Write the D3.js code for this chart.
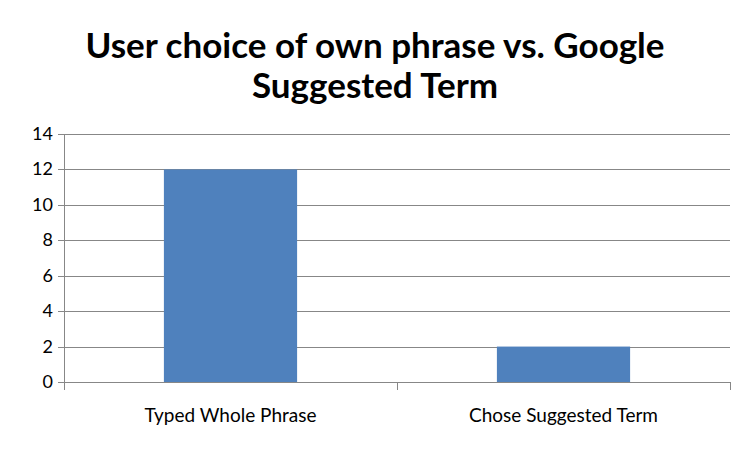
<!DOCTYPE html>
<html><head><meta charset="utf-8">
<script src="https://cdn.jsdelivr.net/npm/d3@7"></script>
<style>body{margin:0;background:#fff}svg{display:block}</style>
</head><body>
<svg id="c" width="752" height="451"></svg>
<script>
const categories = ["Typed Whole Phrase", "Chose Suggested Term"];
const values = [12, 2];
const yTicks = [0, 2, 4, 6, 8, 10, 12, 14];
const titleLines = ["User choice of own phrase vs. Google", "Suggested Term"];

const svg = d3.select("#c");
const W = 752, H = 451;
const m = {left: 64, right: 22, top: 134, bottom: 69};
const font = "Lato, 'Open Sans', sans-serif";

svg.append("rect").attr("width", W).attr("height", H).attr("fill", "#fff");

const x = d3.scaleBand().domain(categories).range([m.left, W - m.right]).paddingInner(0.6).paddingOuter(0.3);
const xb = d3.scaleBand().domain(categories).range([m.left, W - m.right]);
const y = d3.scaleLinear().domain([0, 14]).range([H - m.bottom, m.top]);

// gridlines
svg.append("g").selectAll("line").data(yTicks).join("line")
  .attr("x1", m.left - 6).attr("x2", W - m.right)
  .attr("y1", d => Math.round(y(d)) + 0.5).attr("y2", d => Math.round(y(d)) + 0.5)
  .attr("stroke", "#878787").attr("stroke-width", 1);

// y axis line
svg.append("line").attr("x1", m.left + 0.5).attr("x2", m.left + 0.5)
  .attr("y1", Math.round(y(14))).attr("y2", Math.round(y(0)) + 0.5)
  .attr("stroke", "#878787");

// bars
svg.append("g").selectAll("rect").data(values).join("rect")
  .attr("x", (d, i) => x(categories[i]))
  .attr("width", x.bandwidth())
  .attr("y", d => y(d))
  .attr("height", d => y(0) - y(d))
  .attr("fill", "#4f81bd");

// x axis ticks
const xTickPos = [m.left, ...categories.map(c => xb(c) + xb.bandwidth())];
svg.append("g").selectAll("line").data(xTickPos).join("line")
  .attr("x1", d => Math.round(d) + 0.5).attr("x2", d => Math.round(d) + 0.5)
  .attr("y1", Math.round(y(0))).attr("y2", Math.round(y(0)) + 8)
  .attr("stroke", "#878787");

// y tick labels
svg.append("g").selectAll("text").data(yTicks).join("text")
  .attr("x", m.left - 11).attr("y", d => y(d) + 6)
  .attr("text-anchor", "end").attr("font-family", font).attr("font-size", 18)
  .attr("fill", "#000").text(d => d);

// category labels
svg.append("g").selectAll("text").data(categories).join("text")
  .attr("x", d => xb(d) + xb.bandwidth() / 2).attr("y", H - m.bottom + 40)
  .attr("text-anchor", "middle").attr("font-family", font).attr("font-size", 19)
  .attr("fill", "#000").text(d => d);

// title
const t = svg.append("g");
titleLines.forEach((s, i) => {
  t.append("text").attr("x", 375).attr("y", 58 + i * 40)
    .attr("text-anchor", "middle").attr("font-family", font).attr("font-weight", "bold")
    .attr("font-size", 35).attr("fill", "#000").text(s);
});
</script>
</body></html>
